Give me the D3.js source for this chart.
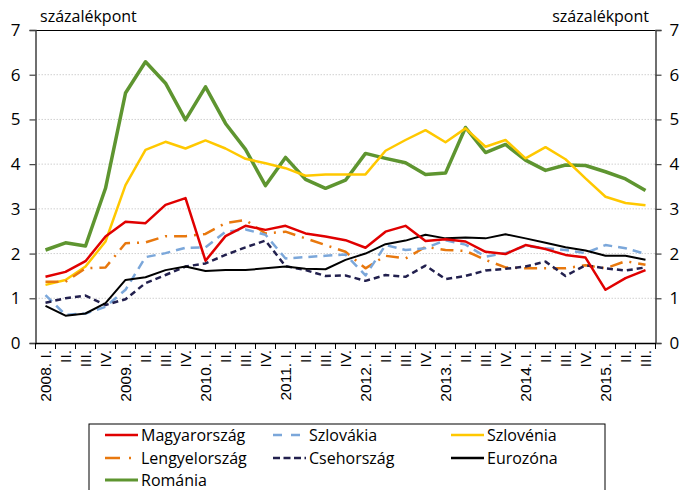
<!DOCTYPE html>
<html><head><meta charset="utf-8">
<script src="https://cdn.jsdelivr.net/npm/d3@7"></script>
<style>body{margin:0;background:#fff}svg{display:block}</style>
</head><body><svg id="c" width="684" height="490"></svg>
<script>
const categories = ["2008. I.","II.","III.","IV.","2009. I.","II.","III.","IV.","2010. I.","II.","III.","IV.","2011. I.","II.","III.","IV.","2012. I.","II.","III.","IV.","2013. I.","II.","III.","IV.","2014. I.","II.","III.","IV.","2015. I.","II.","III."];
const magyarorszag = [1.48,1.59,1.83,2.38,2.71,2.68,3.09,3.24,1.84,2.39,2.62,2.53,2.62,2.45,2.38,2.30,2.13,2.49,2.62,2.28,2.32,2.27,2.04,1.99,2.19,2.10,1.97,1.91,1.19,1.45,1.63];
const szlovakia = [1.07,0.63,0.66,0.81,1.19,1.92,2.01,2.13,2.14,2.49,2.54,2.42,1.89,1.92,1.95,1.98,1.51,2.19,2.08,2.12,2.30,2.20,1.93,2.01,2.17,2.12,2.08,2.01,2.19,2.12,1.99];
const szlovenia = [1.30,1.41,1.71,2.27,3.53,4.32,4.50,4.35,4.53,4.35,4.12,4.02,3.91,3.74,3.77,3.77,3.77,4.30,4.54,4.76,4.49,4.80,4.39,4.54,4.13,4.38,4.11,3.68,3.27,3.13,3.08];
const lengyelorszag = [1.37,1.37,1.67,1.69,2.23,2.25,2.39,2.39,2.44,2.68,2.75,2.45,2.49,2.34,2.19,2.04,1.67,1.95,1.89,2.15,2.08,2.06,1.86,1.69,1.67,1.67,1.67,1.74,1.67,1.83,1.75];
const csehorszag = [0.90,1.00,1.06,0.85,0.98,1.34,1.52,1.71,1.78,1.97,2.14,2.29,1.72,1.63,1.50,1.51,1.39,1.52,1.48,1.73,1.43,1.50,1.62,1.66,1.71,1.82,1.50,1.74,1.67,1.62,1.69];
const eurozona = [0.83,0.61,0.66,0.89,1.41,1.47,1.63,1.71,1.61,1.63,1.63,1.67,1.71,1.66,1.65,1.86,2.00,2.21,2.29,2.42,2.34,2.36,2.34,2.43,2.34,2.24,2.14,2.07,1.95,1.95,1.86];
const romania = [2.08,2.24,2.17,3.46,5.59,6.29,5.81,4.99,5.73,4.91,4.33,3.52,4.15,3.66,3.46,3.64,4.24,4.13,4.03,3.77,3.80,4.82,4.26,4.44,4.09,3.86,3.98,3.97,3.83,3.67,3.41];
const yTicks = [0,1,2,3,4,5,6,7];
const unitLabel = "százalékpont";

const series = [
  {name:"Magyarország", values:magyarorszag, color:"#E00000", width:2.5, dash:null, ldash:null},
  {name:"Szlovákia", values:szlovakia, color:"#7BA7DA", width:2.5, dash:"9,6", ldash:"9,9"},
  {name:"Szlovénia", values:szlovenia, color:"#FFC800", width:2.5, dash:null, ldash:null},
  {name:"Lengyelország", values:lengyelorszag, color:"#E8780E", width:2.5, dash:"13,7,2,7", ldash:"15,9,2,9"},
  {name:"Csehország", values:csehorszag, color:"#22204E", width:2.5, dash:"6,4", ldash:"7,3.5"},
  {name:"Eurozóna", values:eurozona, color:"#000000", width:2, dash:null, ldash:null},
  {name:"Románia", values:romania, color:"#5E9530", width:3.5, dash:null, ldash:null}
];
const drawOrder = [6,2,3,1,4,5,0];

const svg = d3.select("#c");
const L = 35.5, R = 655.5, T = 30, B = 343;
const idx = d3.range(categories.length);
const x = d3.scaleBand().domain(idx).range([L, R]);
const y = d3.scaleLinear().domain([0,7]).range([B, T]);
const font = "'Open Sans', 'Noto Sans', sans-serif";

// gridlines
svg.append("g").selectAll("line").data(yTicks.filter(d=>d>0&&d<7)).join("line")
  .attr("x1",L).attr("x2",R).attr("y1",d=>y(d)).attr("y2",d=>y(d))
  .attr("stroke","#d0d0d0").attr("stroke-width",1).attr("stroke-dasharray","1.5,1.5");
// top border
svg.append("line").attr("x1",L).attr("x2",R).attr("y1",T+0.5).attr("y2",T+0.5).attr("stroke","#000").attr("stroke-width",1.2);

// y axes
const yl = svg.append("g").attr("transform",`translate(${L},0)`)
  .call(d3.axisLeft(y).tickValues(yTicks).tickSize(6).tickPadding(9).tickFormat(d3.format("d")));
const yr = svg.append("g").attr("transform",`translate(${R},0)`)
  .call(d3.axisRight(y).tickValues(yTicks).tickSize(6).tickPadding(8).tickFormat(d3.format("d")));
[yl,yr].forEach(g=>{
  g.select(".domain").attr("stroke","#404040").attr("stroke-width",1.5);
  g.selectAll(".tick line").attr("stroke","#404040").attr("stroke-width",1.2);
  g.selectAll("text").attr("font-family",font).attr("font-size",17).attr("fill","#000");
});

// x axis
const xa = svg.append("g").attr("transform",`translate(0,${B})`)
  .call(d3.axisBottom(x).tickSize(0).tickFormat(i=>categories[i]));
xa.select(".domain").attr("stroke","#000").attr("stroke-width",1.5);
xa.selectAll("text").attr("font-family","'Liberation Sans', Arial, sans-serif").attr("font-size",15.5).attr("fill","#000")
  .attr("transform","rotate(-90)").attr("text-anchor","end").attr("dy","0.35em").attr("x",-7).attr("y",0);
// category boundary ticks
const bounds = idx.map(i=>x(i)).concat([R]);
svg.append("g").selectAll("line").data(bounds).join("line")
  .attr("x1",d=>d).attr("x2",d=>d).attr("y1",B).attr("y2",B+6).attr("stroke","#000").attr("stroke-width",1);

// lines
const line = d3.line().x((d,i)=>x(i)+x.bandwidth()/2).y(d=>y(d));
drawOrder.forEach(k=>{
  const s = series[k];
  svg.append("path").datum(s.values).attr("d",line).attr("fill","none")
    .attr("stroke",s.color).attr("stroke-width",s.width).attr("stroke-dasharray",s.dash)
    .attr("stroke-linejoin","round");
});

// unit labels
svg.append("text").attr("x",40).attr("y",22).attr("font-family",font).attr("font-size",16).text(unitLabel);
svg.append("text").attr("x",649).attr("y",22).attr("text-anchor","end").attr("font-family",font).attr("font-size",16).text(unitLabel);

// legend
const lg = svg.append("g");
lg.append("rect").attr("x",89).attr("y",424).attr("width",516).attr("height",80).attr("fill","#fff").attr("stroke","#000").attr("stroke-width",1);
const colX = [105,273,451], rowY = [435,458,480];
series.forEach((s,i)=>{
  const cx = colX[i%3], cy = rowY[Math.floor(i/3)];
  lg.append("line").attr("x1",cx).attr("x2",cx+33).attr("y1",cy).attr("y2",cy)
    .attr("stroke",s.color).attr("stroke-width",s.width>3?3:2.5).attr("stroke-dasharray",s.ldash);
  lg.append("text").attr("x",cx+36).attr("y",cy).attr("dy","0.35em").attr("font-family",font).attr("font-size",16).text(s.name);
});
</script></body></html>
